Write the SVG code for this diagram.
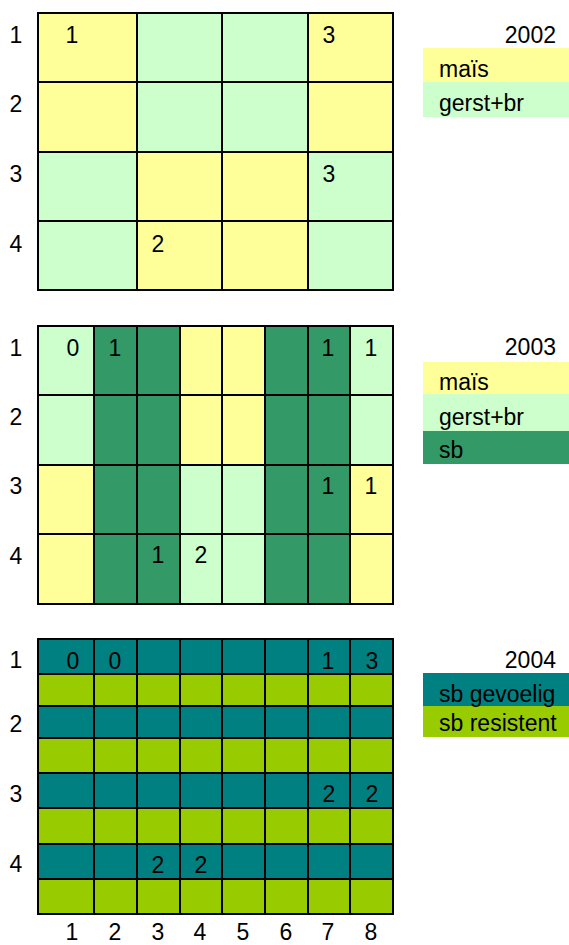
<svg xmlns="http://www.w3.org/2000/svg" width="569" height="945" viewBox="0 0 569 945">
<style>
text{font-family:"Liberation Sans",Arial,sans-serif;font-size:23px;fill:#000}
.m{text-anchor:middle}
.e{text-anchor:end}
.y{fill:#FFFF99}.g{fill:#CCFFCC}.s{fill:#339966}.t{fill:#008080}.l{fill:#99CC00}
.ln{stroke:#000;stroke-width:2;fill:none}
</style>
<rect width="569" height="945" fill="#fff"/>
<g id="grid2002">
<rect class="y" x="38" y="13" width="99" height="139"/>
<rect class="g" x="137" y="13" width="171" height="139"/>
<rect class="y" x="308" y="13" width="85" height="139"/>
<rect class="g" x="38" y="152" width="99" height="138"/>
<rect class="y" x="137" y="152" width="171" height="138"/>
<rect class="g" x="308" y="152" width="85" height="138"/>
<path class="ln" d="M38 13H393V290H38Z M137 13V290 M222 13V290 M308 13V290 M38 82H393 M38 152H393 M38 221H393"/>
<text class="m" x="16" y="43">1</text><text class="m" x="16" y="112">2</text><text class="m" x="16" y="182">3</text><text class="m" x="16" y="252">4</text>
<text class="m" x="72" y="43">1</text><text class="m" x="329" y="43">3</text><text class="m" x="329" y="182">3</text><text class="m" x="158" y="252">2</text>
</g>
<g id="legend2002">
<text class="e" x="556" y="43">2002</text>
<rect class="y" x="423" y="48" width="146" height="34"/>
<rect class="g" x="423" y="82" width="146" height="35"/>
<text x="439" y="77">maïs</text>
<text x="439" y="111">gerst+br</text>
</g>
<g id="grid2003">
<rect class="g" x="38" y="326" width="56" height="139"/>
<rect class="y" x="38" y="465" width="56" height="139"/>
<rect class="s" x="94" y="326" width="86" height="278"/>
<rect class="y" x="180" y="326" width="85" height="139"/>
<rect class="g" x="180" y="465" width="85" height="139"/>
<rect class="s" x="265" y="326" width="85" height="278"/>
<rect class="g" x="350" y="326" width="43" height="139"/>
<rect class="y" x="350" y="465" width="43" height="139"/>
<path class="ln" d="M38 326H393V604H38Z M94 326V604 M137 326V604 M180 326V604 M222 326V604 M265 326V604 M308 326V604 M350 326V604 M38 395H393 M38 465H393 M38 534H393"/>
<text class="m" x="16" y="356">1</text><text class="m" x="16" y="425">2</text><text class="m" x="16" y="494">3</text><text class="m" x="16" y="564">4</text>
<text class="m" x="73" y="356">0</text><text class="m" x="115" y="356">1</text><text class="m" x="328" y="356">1</text><text class="m" x="371" y="356">1</text>
<text class="m" x="328" y="494">1</text><text class="m" x="371" y="494">1</text>
<text class="m" x="158" y="563">1</text><text class="m" x="201" y="563">2</text>
</g>
<g id="legend2003">
<text class="e" x="556" y="355">2003</text>
<rect class="y" x="423" y="362" width="146" height="32"/>
<rect class="g" x="423" y="394" width="146" height="37"/>
<rect class="s" x="423" y="431" width="146" height="33"/>
<text x="439" y="390">maïs</text>
<text x="439" y="425">gerst+br</text>
<text x="439" y="458">sb</text>
</g>
<g id="grid2004">
<rect class="t" x="38" y="639" width="355" height="35"/>
<rect class="l" x="38" y="674" width="355" height="32"/>
<rect class="t" x="38" y="706" width="355" height="32"/>
<rect class="l" x="38" y="738" width="355" height="35"/>
<rect class="t" x="38" y="773" width="355" height="35"/>
<rect class="l" x="38" y="808" width="355" height="36"/>
<rect class="t" x="38" y="844" width="355" height="35"/>
<rect class="l" x="38" y="879" width="355" height="35"/>
<path class="ln" d="M38 639H393V914H38Z M94 639V914 M137 639V914 M180 639V914 M222 639V914 M265 639V914 M308 639V914 M350 639V914 M38 674H393 M38 706H393 M38 738H393 M38 773H393 M38 808H393 M38 844H393 M38 879H393"/>
<text class="m" x="16" y="668">1</text><text class="m" x="16" y="732">2</text><text class="m" x="16" y="802">3</text><text class="m" x="16" y="872">4</text>
<text class="m" x="73" y="669">0</text><text class="m" x="115" y="669">0</text><text class="m" x="328" y="669">1</text><text class="m" x="372" y="669">3</text>
<text class="m" x="329" y="802">2</text><text class="m" x="372" y="802">2</text>
<text class="m" x="158" y="873">2</text><text class="m" x="201" y="873">2</text>
<text class="m" x="72" y="940">1</text><text class="m" x="115" y="940">2</text><text class="m" x="158" y="940">3</text><text class="m" x="200" y="940">4</text><text class="m" x="243" y="940">5</text><text class="m" x="286" y="940">6</text><text class="m" x="328" y="940">7</text><text class="m" x="371" y="940">8</text>
</g>
<g id="legend2004">
<text class="e" x="556" y="668">2004</text>
<rect class="t" x="423" y="673" width="146" height="33"/>
<rect class="l" x="423" y="706" width="146" height="31"/>
<text x="439" y="702">sb gevoelig</text>
<text x="439" y="731">sb resistent</text>
</g>
</svg>
